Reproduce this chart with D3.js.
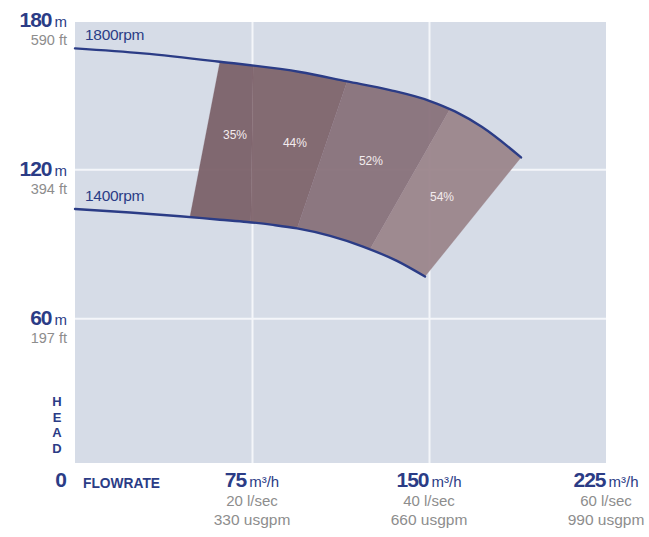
<!DOCTYPE html>
<html>
<head>
<meta charset="utf-8">
<script src="https://cdn.jsdelivr.net/npm/d3@7"></script>
<style>
  html, body { margin: 0; padding: 0; background: #ffffff; }
  svg { display: block; }
  .nar { font-family: "Liberation Sans", Arial, Helvetica, sans-serif; }
</style>
</head>
<body>
<svg id="chart" width="649" height="537"></svg>
<script>
// ---------------- data ----------------
const headTicks = [180, 120, 60];
const headFeet = ["590 ft", "394 ft", "197 ft"];
const flowTicks = [75, 150, 225];
const flowLps = ["20 l/sec", "40 l/sec", "60 l/sec"];
const flowGpm = ["330 usgpm", "660 usgpm", "990 usgpm"];

const speedLabels = ["1800rpm", "1400rpm"];
// [flow m³/h, head m]
const curve1800 = [[0,168.7],[28.8,166.7],[61.4,163.3],[95.3,159.2],[115.3,155.4],[133.5,151.9],[150.4,147.5],[161.0,143.3],[172.5,137.0],[189.0,124.8]];
const curve1400 = [[0,104.0],[23.3,102.6],[44.5,101.1],[61.4,99.7],[72.9,98.8],[83.9,97.6],[94.1,96.2],[108.1,93.2],[122.0,88.9],[136.4,83.1],[148.3,76.8]];

const effLabels = ["35%", "44%", "52%", "54%"];
const zoneTopFlow = [61.4, 75.5, 115.3, 158.9, 189.0];      // zone edges on 1800rpm curve
const zoneBottomFlow = [48.7, 74.5, 94.1, 125.0, 148.3];    // zone edges on 1400rpm curve
const effLabelFlow = [67.8, 93.2, 125.4, 155.5];
const effLabelHead = [133.8, 130.6, 123.3, 108.8];
const zoneColors = ["#7b6169", "#7e646c", "#88717a", "#9b858b"];

// ---------------- layout ----------------
const svg = d3.select("#chart");
const plot = { left: 75, right: 606, top: 22, bottom: 463 };
const x = d3.scaleLinear().domain([0, 225]).range([75, 606]);
const y = d3.scaleLinear().domain([0, 180]).range([467.3, 20.3]);

const NAVY = "#2b3c86";
const GRAY = "#8d8d8d";

// plot background
svg.append("rect")
  .attr("x", plot.left).attr("y", plot.top)
  .attr("width", plot.right - plot.left).attr("height", plot.bottom - plot.top)
  .attr("fill", "#d6dce7");

// gridlines via axes
const gx = svg.append("g").attr("transform", `translate(0,${plot.bottom})`)
  .call(d3.axisBottom(x).tickValues(flowTicks.slice(0, 2)).tickSize(-(plot.bottom - plot.top)).tickFormat(""));
gx.select(".domain").remove();
gx.selectAll("line").attr("stroke", "#f4f6fa").attr("stroke-width", 2);

const gy = svg.append("g").attr("transform", `translate(${plot.left},0)`)
  .call(d3.axisLeft(y).tickValues(headTicks.slice(1)).tickSize(-(plot.right - plot.left)).tickFormat(""));
gy.select(".domain").remove();
gy.selectAll("line").attr("stroke", "#f4f6fa").attr("stroke-width", 2);

// curves
const line = d3.line().x(d => x(d[0])).y(d => y(d[1])).curve(d3.curveMonotoneX);

// hidden helper paths to sample the curves
const helpTop = svg.append("path").attr("d", line(curve1800)).attr("fill", "none").attr("stroke", "none");
const helpBot = svg.append("path").attr("d", line(curve1400)).attr("fill", "none").attr("stroke", "none");

function samplesBetween(pathNode, px0, px1) {
  const L = pathNode.getTotalLength();
  const pts = [];
  const n = 400;
  for (let i = 0; i <= n; i++) {
    const p = pathNode.getPointAtLength(L * i / n);
    if (p.x > px0 && p.x < px1) pts.push([p.x, p.y]);
  }
  return pts;
}
function pointAtX(pathNode, px) {
  const L = pathNode.getTotalLength();
  let lo = 0, hi = L;
  for (let k = 0; k < 40; k++) {
    const mid = (lo + hi) / 2;
    if (pathNode.getPointAtLength(mid).x < px) lo = mid; else hi = mid;
  }
  const p = pathNode.getPointAtLength((lo + hi) / 2);
  return [p.x, p.y];
}

const tNode = helpTop.node(), bNode = helpBot.node();
const zones = svg.append("g");
for (let i = 0; i < effLabels.length; i++) {
  const t0 = pointAtX(tNode, x(zoneTopFlow[i]));
  const t1 = pointAtX(tNode, x(zoneTopFlow[i + 1]));
  const b0 = pointAtX(bNode, x(zoneBottomFlow[i]));
  const b1 = pointAtX(bNode, x(zoneBottomFlow[i + 1]));
  const topPts = samplesBetween(tNode, t0[0], t1[0]);
  const botPts = samplesBetween(bNode, b0[0], b1[0]).reverse();
  const poly = [t0, ...topPts, t1, b1, ...botPts, b0];
  zones.append("path")
    .attr("d", "M" + poly.map(p => p.join(",")).join("L") + "Z")
    .attr("fill", zoneColors[i])
    .attr("fill-opacity", 0.95)
    .attr("stroke", zoneColors[i]).attr("stroke-opacity", 0.5).attr("stroke-width", 0.5);
}

svg.append("path").attr("d", line(curve1800)).attr("fill", "none")
  .attr("stroke", NAVY).attr("stroke-width", 2.4).attr("stroke-linecap", "round");
svg.append("path").attr("d", line(curve1400)).attr("fill", "none")
  .attr("stroke", NAVY).attr("stroke-width", 2.4).attr("stroke-linecap", "round");

// efficiency labels
svg.append("g").selectAll("text").data(effLabels).join("text")
  .attr("class", "nar")
  .attr("x", (d, i) => x(effLabelFlow[i]))
  .attr("y", (d, i) => y(effLabelHead[i]) + 4)
  .attr("text-anchor", "middle")
  .attr("font-size", 12)
  .attr("fill", "#f3ecee")
  .text(d => d);

// speed labels
[curve1800, curve1400].forEach((c, i) => {
  svg.append("text").attr("class", "nar")
    .attr("x", x(c[0][0]) + 10).attr("y", y(c[0][1]) - 8)
    .attr("font-size", 15.5).attr("fill", NAVY).attr("letter-spacing", -0.3)
    .text(speedLabels[i]);
});

// y tick labels
const yl = svg.append("g");
headTicks.forEach((v, i) => {
  const t = yl.append("text").attr("class", "nar")
    .attr("x", 67).attr("y", y(v) + 7).attr("text-anchor", "end")
    .attr("fill", NAVY);
  t.append("tspan").attr("font-size", 21).attr("font-weight", "bold").attr("letter-spacing", -1).text(v);
  t.append("tspan").attr("font-size", 15).attr("dx", 3).text("m");
  yl.append("text").attr("class", "nar")
    .attr("x", 67).attr("y", y(v) + 25).attr("text-anchor", "end")
    .attr("font-size", 14.5).attr("fill", GRAY)
    .text(headFeet[i]);
});

// HEAD stacked
"HEAD".split("").forEach((ch, i) => {
  svg.append("text").attr("class", "nar")
    .attr("x", 57).attr("y", 406 + i * 15.5).attr("text-anchor", "middle")
    .attr("font-size", 13).attr("font-weight", "bold").attr("fill", NAVY)
    .text(ch);
});

// zero and FLOWRATE
svg.append("text").attr("class", "nar")
  .attr("x", 67).attr("y", 487).attr("text-anchor", "end")
  .attr("font-size", 21).attr("font-weight", "bold").attr("fill", NAVY).text("0");
svg.append("text").attr("class", "nar")
  .attr("x", 83).attr("y", 488)
  .attr("font-size", 15).attr("font-weight", "bold").attr("fill", NAVY)
  .attr("textLength", 77).attr("lengthAdjust", "spacingAndGlyphs")
  .text("FLOWRATE");

// x tick labels
const xl = svg.append("g");
flowTicks.forEach((v, i) => {
  const cx = x(v);
  const t = xl.append("text").attr("class", "nar")
    .attr("x", cx).attr("y", 487).attr("text-anchor", "middle")
    .attr("fill", NAVY);
  t.append("tspan").attr("font-size", 21).attr("font-weight", "bold").attr("letter-spacing", -1).text(v);
  t.append("tspan").attr("font-size", 15).attr("dx", 3).text("m³/h");
  xl.append("text").attr("class", "nar")
    .attr("x", cx).attr("y", 506).attr("text-anchor", "middle")
    .attr("font-size", 15).attr("fill", GRAY)
    .text(flowLps[i]);
  xl.append("text").attr("class", "nar")
    .attr("x", cx).attr("y", 525).attr("text-anchor", "middle")
    .attr("font-size", 15.5).attr("fill", GRAY)
    .text(flowGpm[i]);
});
</script>
</body>
</html>
